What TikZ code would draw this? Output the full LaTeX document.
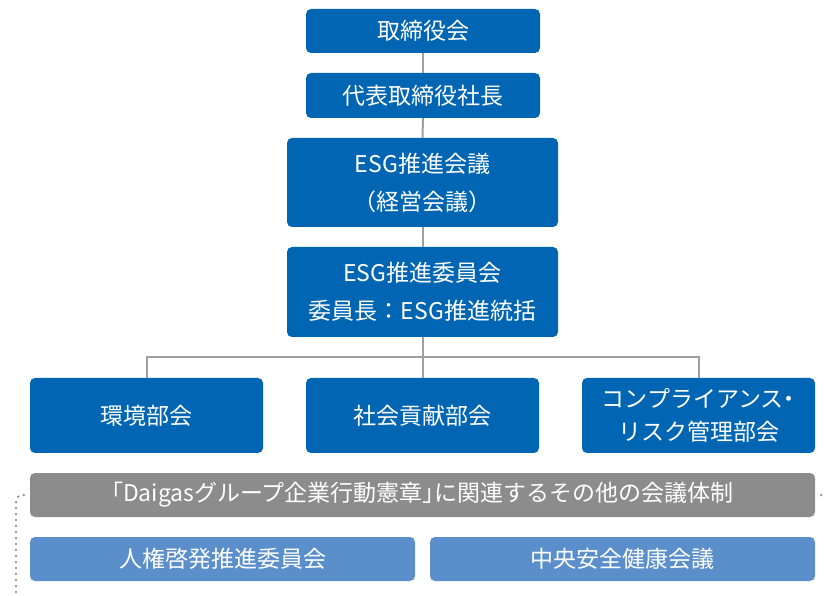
\documentclass[tikz,border=0pt]{standalone}
\usepackage{fontspec}
\setmainfont{Noto Sans CJK JP}[RawFeature=+halt]
\newfontfamily\fullw{Noto Sans CJK JP}
\definecolor{dblue}{HTML}{0066B3}
\definecolor{lblue}{HTML}{5B8FCB}
\definecolor{gbar}{HTML}{8C8C8C}
\definecolor{cline}{HTML}{A0A0A0}
\definecolor{dotc}{HTML}{959595}
\begin{document}
\begin{tikzpicture}[x=1pt,y=1pt,
  base/.style={rounded corners=5pt,text=white,align=center,font=\fontsize{23}{38}\selectfont,inner sep=0pt},
  box/.style={base,fill=dblue},
  lbox/.style={base,fill=lblue},
  gbox/.style={base,fill=gbar},
  conn/.style={draw=cline,line width=2pt},
  dots/.style={dotc,line width=2.8pt,dash pattern=on 0pt off 6pt,line cap=round}]
\useasboundingbox (0,0) rectangle (825,595);
\node[box,minimum width=234pt,minimum height=44pt] (a) at (423,564) {取締役会};
\node[box,minimum width=234pt,minimum height=45pt] (b) at (423,499.5) {代表取締役社長};
\node[box,minimum width=271pt,minimum height=89pt] (c) at (422.5,412.5) {ESG推進会議\\（経営会議）};
\node[box,minimum width=271pt,minimum height=90pt] (d) at (422.5,303) {ESG推進委員会\\委員長{\fullw ：}ESG推進統括};
\node[box,minimum width=233pt,minimum height=75pt] (e) at (146.5,179.5) {環境部会};
\node[box,minimum width=233pt,minimum height=75pt] (f) at (422.5,179.5) {社会貢献部会};
\node[box,minimum width=233pt,minimum height=75pt,font=\fontsize{23}{33}\selectfont] (g) at (698.5,179.5) {コンプライアンス・\\リスク管理部会};
\node[gbox,minimum width=785pt,minimum height=44pt] (h) at (422.5,100) {「Daigasグループ企業行動憲章」に関連するその他の会議体制};
\node[lbox,minimum width=385pt,minimum height=44pt] (i) at (222.5,36) {人権啓発推進委員会};
\node[lbox,minimum width=385pt,minimum height=44pt] (j) at (622.5,36) {中央安全健康会議};
\coordinate (hb) at (423,238);
\draw[conn] (a.south) -- (b.north);
\draw[conn] (b.south) -- (c.north);
\draw[conn] (c.south) -- (d.north);
\draw[conn] (d.south) -- (f.north);
\draw[conn] (e.north) -- (e.north|-hb) -- (g.north|-hb) -- (g.north);
\coordinate (dlb) at (16,0);
\coordinate (dr) at (826,100);
\draw[dots] (h.west) ++(-6,0) .. controls (16,100) and (16,96) .. (16,88) -- (dlb);
\draw[dots] (h.east) ++(6,0) -- (dr);
\end{tikzpicture}
\end{document}
